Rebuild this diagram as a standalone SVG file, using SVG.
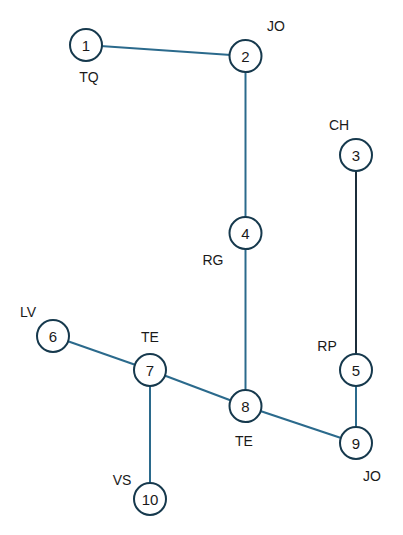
<svg xmlns="http://www.w3.org/2000/svg" width="403" height="535" viewBox="0 0 403 535">
<style>
.edge{stroke:#2b6a8c;stroke-width:2;fill:none}
.dark{stroke:#1b2d3a}
.node circle{fill:#fff;stroke:#16394d;stroke-width:2}
.num{font-family:"Liberation Sans",Arial,sans-serif;font-size:15px;fill:#1a1a1a;text-anchor:middle;dominant-baseline:central}
.lbl{font-family:"Liberation Sans",Arial,sans-serif;font-size:14px;fill:#1a1a1a;text-anchor:middle}
</style>
<rect width="403" height="535" fill="#fff"/>
<g id="connectors">
<line class="edge" x1="86" y1="45" x2="245.5" y2="56"/>
<line class="edge" x1="245.5" y1="56" x2="245.5" y2="233"/>
<line class="edge" x1="245.5" y1="233" x2="245.5" y2="406"/>
<line class="edge dark" x1="356" y1="155" x2="356" y2="370"/>
<line class="edge" x1="356" y1="370" x2="356" y2="443"/>
<line class="edge" x1="53" y1="336" x2="150" y2="370"/>
<line class="edge" x1="150" y1="370" x2="245.5" y2="406"/>
<line class="edge" x1="245.5" y1="406" x2="356" y2="443"/>
<line class="edge" x1="150" y1="370" x2="150" y2="499"/>
</g>
<g id="n1" class="node"><circle cx="86" cy="45" r="16"/><text class="num" x="86" y="45">1</text><text class="lbl" x="89" y="82">TQ</text></g>
<g id="n2" class="node"><circle cx="245.5" cy="56" r="16"/><text class="num" x="245.5" y="56">2</text><text class="lbl" x="276" y="31">JO</text></g>
<g id="n3" class="node"><circle cx="356" cy="155" r="16"/><text class="num" x="356" y="155">3</text><text class="lbl" x="339" y="130">CH</text></g>
<g id="n4" class="node"><circle cx="245.5" cy="233" r="16"/><text class="num" x="245.5" y="233">4</text><text class="lbl" x="213" y="265">RG</text></g>
<g id="n5" class="node"><circle cx="356" cy="370" r="16"/><text class="num" x="356" y="370">5</text><text class="lbl" x="327" y="351">RP</text></g>
<g id="n6" class="node"><circle cx="53" cy="336" r="16"/><text class="num" x="53" y="336">6</text><text class="lbl" x="28" y="317">LV</text></g>
<g id="n7" class="node"><circle cx="150" cy="370" r="16"/><text class="num" x="150" y="370">7</text><text class="lbl" x="150" y="342">TE</text></g>
<g id="n8" class="node"><circle cx="245.5" cy="406" r="16"/><text class="num" x="245.5" y="406">8</text><text class="lbl" x="244" y="446">TE</text></g>
<g id="n9" class="node"><circle cx="356" cy="443" r="16"/><text class="num" x="356" y="443">9</text><text class="lbl" x="372" y="481">JO</text></g>
<g id="n10" class="node"><circle cx="150" cy="499" r="16"/><text class="num" x="150" y="499">10</text><text class="lbl" x="122" y="485">VS</text></g>
</svg>
